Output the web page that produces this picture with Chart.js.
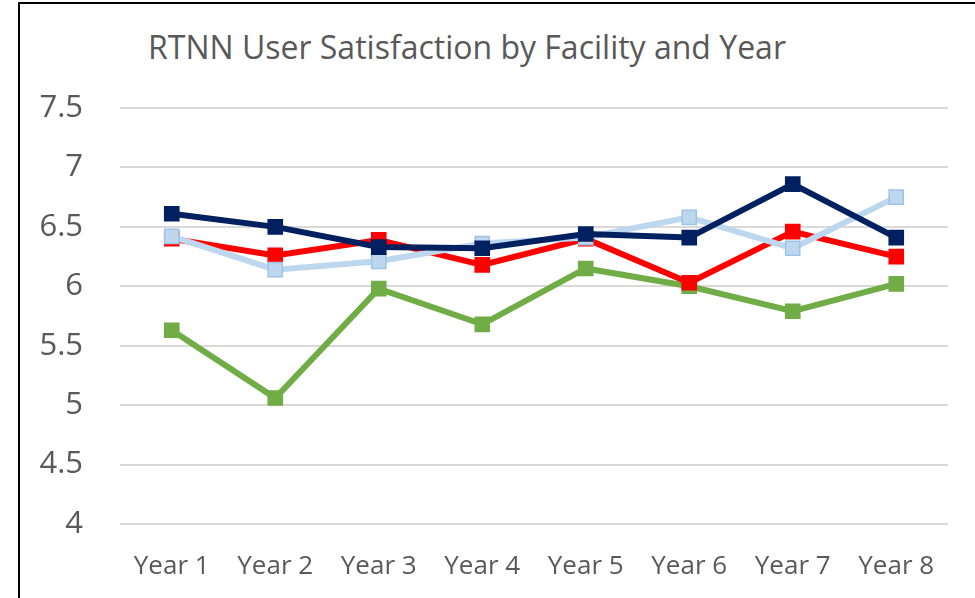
<!DOCTYPE html>
<html>
<head>
<meta charset="utf-8">
<script src="https://cdn.jsdelivr.net/npm/chart.js@4.4.1/dist/chart.umd.min.js"></script>
<style>
  html, body { margin: 0; padding: 0; background: #fff; overflow: hidden; }
  #wrap { position: relative; width: 975px; height: 598px; }
  #frame {
    position: absolute; left: 18px; top: 2px; width: 1200px; height: 800px;
    border: 2px solid #000; box-sizing: border-box;
  }
  #title {
    position: absolute; left: 148px; top: 31px; line-height: 1;
    font-family: "Open Sans", sans-serif; font-size: 32px; color: #595959;
    white-space: nowrap;
  }
  canvas { position: absolute; left: 0; top: 0; }
</style>
</head>
<body>
<div id="wrap">
  <div id="frame"></div>
  <div id="title">RTNN User Satisfaction by Facility and Year</div>
  <canvas id="satisfactionChart" width="975" height="598"></canvas>
</div>
<script>
const years = ['Year 1', 'Year 2', 'Year 3', 'Year 4', 'Year 5', 'Year 6', 'Year 7', 'Year 8'];

// values (facility names not shown in the picture)
const facilityNavy = [6.61, 6.50, 6.33, 6.32, 6.44, 6.41, 6.86, 6.41];
const facilityLightBlue = [6.42, 6.14, 6.21, 6.36, 6.41, 6.58, 6.32, 6.75];
const facilityRed = [6.40, 6.26, 6.39, 6.18, 6.40, 6.03, 6.46, 6.25];
const facilityGreen = [5.63, 5.06, 5.98, 5.68, 6.15, 6.00, 5.79, 6.02];

const yMin = 4;
const yMax = 7.5;
const yStep = 0.5;

function series(label, data, color, border) {
  return {
    label: label,
    data: data,
    borderColor: color,
    backgroundColor: color,
    borderWidth: 6,
    pointStyle: 'rect',
    pointRadius: 10,
    pointHoverRadius: 10,
    pointBackgroundColor: color,
    pointBorderColor: border || color,
    pointBorderWidth: 1.5,
    tension: 0
  };
}

const ctx = document.getElementById('satisfactionChart').getContext('2d');
new Chart(ctx, {
  type: 'line',
  data: {
    labels: years,
    datasets: [
      series('Facility A', facilityNavy, '#002060'),
      series('Facility B', facilityLightBlue, '#bdd7ee', '#9dc3e6'),
      series('Facility C', facilityRed, '#ff0000'),
      series('Facility D', facilityGreen, '#70ad47')
    ]
  },
  options: {
    responsive: false,
    animation: false,
    layout: {
      padding: { top: 108, right: 27, bottom: 0, left: 0 }
    },
    scales: {
      x: {
        offset: true,
        grid: { display: false },
        border: { display: false },
        ticks: {
          color: '#595959',
          font: { family: 'Open Sans', size: 26 },
          padding: 19,
          maxRotation: 0,
          autoSkip: false
        },
        afterFit: function (scale) { scale.height = 74; }
      },
      y: {
        min: yMin,
        max: yMax,
        grid: { color: '#d9d9d9', lineWidth: 2, drawTicks: false },
        border: { display: false },
        ticks: {
          stepSize: yStep,
          color: '#595959',
          font: { family: 'Open Sans', size: 31 },
          padding: 37,
          callback: function (value) { return String(value); }
        },
        afterFit: function (scale) { scale.width = 120; }
      }
    },
    plugins: {
      legend: { display: false },
      title: { display: false },
      tooltip: { enabled: false }
    }
  }
});
</script>
</body>
</html>
